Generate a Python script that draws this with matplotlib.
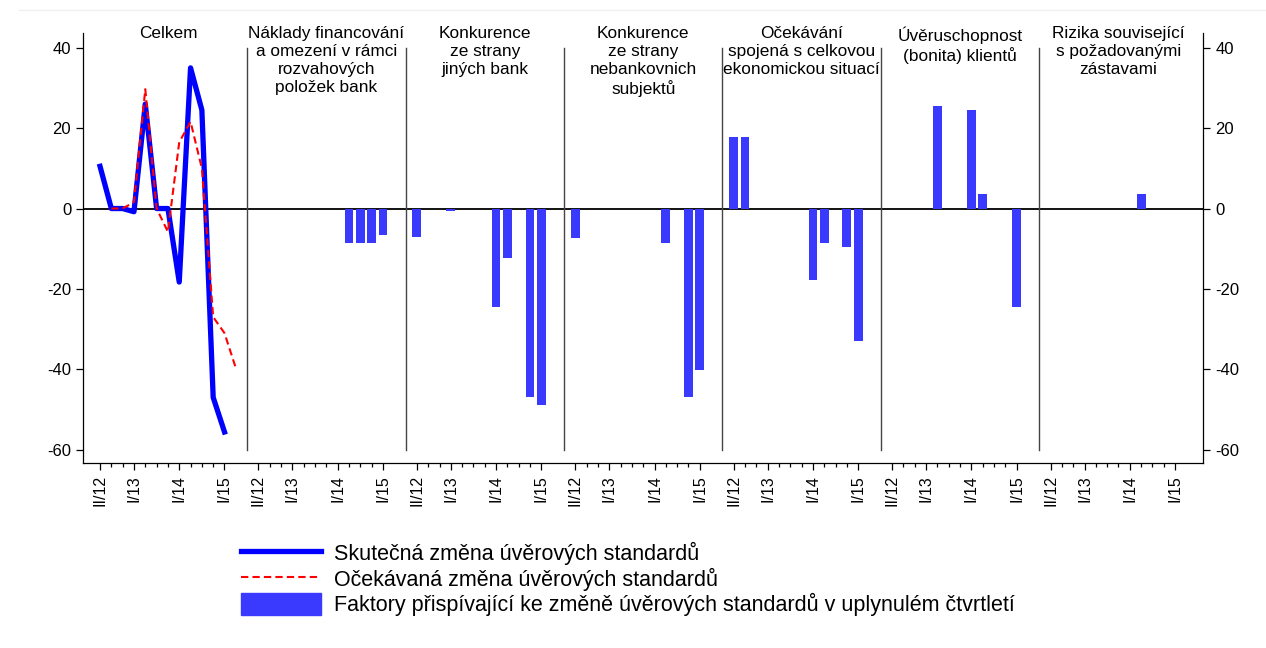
import numpy as np
import matplotlib
matplotlib.use('Agg')
import matplotlib.pyplot as plt
from matplotlib.lines import Line2D
from matplotlib.patches import Patch

plt.rcParams['font.family'] = ['Liberation Sans', 'DejaVu Sans']
plt.rcParams['axes.unicode_minus'] = False

quarters = ['II/12', 'III/12', 'IV/12', 'I/13', 'II/13', 'III/13', 'IV/13',
            'I/14', 'II/14', 'III/14', 'IV/14', 'I/15']
labelled = ['II/12', 'I/13', 'I/14', 'I/15']

titles = ['Celkem',
          'Náklady financování\na omezení v rámci\nrozvahových\npoložek bank',
          'Konkurence\nze strany\njiných bank',
          'Konkurence\nze strany\nnebankovnich\nsubjektů',
          'Očekávání\nspojená s celkovou\nekonomickou situací',
          'Úvěruschopnost\n(bonita) klientů',
          'Rizika související\ns požadovanými\nzástavami']

# panel 1 - lines (expected has one more quarter, II/15)
actual = [10.5, 0, 0, -0.8, 26, 0, 0, -18.3, 35, 24.5, -47, -55.6]
expected = [np.nan, 0, 0, 1.6, 29.7, 0, -5.8, 16.5, 21.6, 10, -27, -31, -39.7]

# panels 2-7 - factors
f_naklady = [0, 0, 0, 0, 0, 0, 0, 0, -8.7, -8.7, -8.7, -6.5]
f_banky = [-7.2, 0, 0, -0.6, 0, 0, 0, -24.6, -12.2, 0, -47, -49]
f_nebank = [-7.3, 0, 0, 0, 0, 0, 0, 0, -8.7, 0, -47, -40.3]
f_ekonom = [17.8, 17.8, 0, 0, 0, 0, 0, -17.9, -8.7, 0, -9.5, -32.9]
f_bonita = [0, 0, 0, 0, 25.6, 0, 0, 24.5, 3.6, 0, 0, -24.6]
f_zastavy = [0, 0, 0, 0, 0, 0, 0, 0, 3.6, 0, 0, 0]
factors = [f_naklady, f_banky, f_nebank, f_ekonom, f_bonita, f_zastavy]

blue = '#0000ff'
barblue = '#3a3aff'
red = '#ff0000'
slot = 14  # quarters per panel incl. gaps

fig = plt.figure(figsize=(12.66, 6.48), dpi=100)
ax = fig.add_axes([0.0656, 0.285, 0.8849, 0.6636])

q = np.arange(len(quarters))

ax.axhline(0, color='black', lw=1.3, zorder=1)
for p in range(1, 7):
    ax.plot([p * slot, p * slot], [-60, 40], color='#444444', lw=1.0, zorder=1)

ax.plot(q + 1, actual, color=blue, lw=3.8, solid_joinstyle='round', zorder=4)
ax.plot(np.arange(len(expected)) + 1, expected, color=red, lw=1.5,
        dashes=(3.5, 2), zorder=5)

for i, vals in enumerate(factors):
    x = (i + 1) * slot + 1 + q
    v = np.array(vals)
    m = v != 0
    ax.bar(x[m], v[m], width=0.78, color=barblue, zorder=3)

for p, t in enumerate(titles):
    ax.text(p * slot + 7, 45.4, t, ha='center', va='top', fontsize=12.4,
            linespacing=1.24, clip_on=False)

major = []
minor = []
labels = []
for p in range(7):
    for k, name in enumerate(quarters):
        if name in labelled:
            major.append(p * slot + 1 + k)
            labels.append(name)
        else:
            minor.append(p * slot + 1 + k)
ax.set_xticks(major)
ax.set_xticklabels(labels, rotation=90, fontsize=11.5)
ax.set_xticks(minor, minor=True)
ax.set_xlim(-0.5, 98.5)
ax.set_ylim(-63.4, 43.6)
ax.set_yticks([40, 20, 0, -20, -40, -60])
ax.tick_params(axis='y', labelsize=12, length=5, width=0.9, right=True,
               labelright=True)
ax.tick_params(axis='x', which='major', length=5, width=0.9)
ax.tick_params(axis='x', which='minor', length=3, width=0.9)
ax.spines['top'].set_visible(False)
for s in ['left', 'right', 'bottom']:
    ax.spines[s].set_linewidth(0.9)

handles = [Line2D([], [], color=blue, lw=3.8),
           Line2D([], [], color=red, lw=1.5, dashes=(3.5, 2)),
           Patch(color=barblue)]
names = ['Skutečná změna úvěrových standardů',
         'Očekávaná změna úvěrových standardů',
         'Faktory přispívající ke změně úvěrových standardů v uplynulém čtvrtletí']
fig.legend(handles, names, loc='upper left', bbox_to_anchor=(0.19, 0.164),
           frameon=False, fontsize=15.5, handlelength=3.75, handleheight=1.15,
           handletextpad=0.6, labelspacing=0.12, borderpad=0, borderaxespad=0)

fig.add_artist(Line2D([0.015, 1.0], [0.984, 0.984], color='#f0f0f0', lw=1))

fig.savefig('out.png', dpi=100)
